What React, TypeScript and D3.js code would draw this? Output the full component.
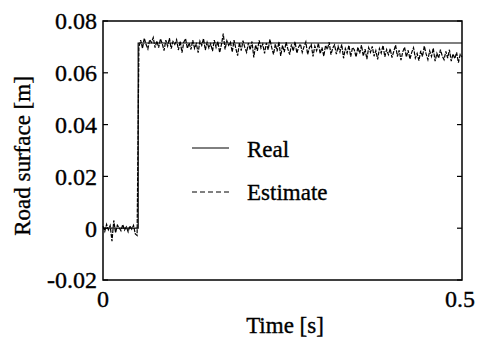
import React from "react";
import * as d3 from "d3";

const xTicks = [0, 0.5];
const xTickLabels = ["0", "0.5"];
const yTicks = [-0.02, 0, 0.02, 0.04, 0.06, 0.08];
const yTickLabels = ["-0.02", "0", "0.02", "0.04", "0.06", "0.08"];

const realTimes = [0, 0.049, 0.049, 0.5];
const realValues = [0, 0, 0.0715, 0.0715];

const sampleStep = 0.0025;
const estimateValues = [
  0.0008, -0.0012, 0.0015, -0.0006, 0.0010, -0.0050, 0.0030, -0.0018, 0.0012, 0.0002,
  -0.0010, 0.0014, -0.0007, 0.0005, -0.0014, 0.0009, -0.0004, 0.0011, -0.0022, -0.0028,
  0.0700, 0.0726, 0.0694, 0.0734, 0.0709, 0.0692, 0.0728, 0.0717, 0.0736, 0.0697,
  0.0723, 0.0697, 0.0731, 0.0713, 0.0686, 0.0726, 0.0703, 0.0734, 0.0693, 0.0721,
  0.0710, 0.0728, 0.0688, 0.0722, 0.0678, 0.0718, 0.0732, 0.0694, 0.0715, 0.0690,
  0.0726, 0.0694, 0.0712, 0.0678, 0.0722, 0.0706, 0.0732, 0.0688, 0.0718, 0.0696,
  0.0712, 0.0684, 0.0726, 0.0698, 0.0720, 0.0678, 0.0710, 0.0751, 0.0690, 0.0724,
  0.0706, 0.0718, 0.0680, 0.0726, 0.0694, 0.0666, 0.0716, 0.0686, 0.0724, 0.0698,
  0.0679, 0.0715, 0.0689, 0.0721, 0.0659, 0.0707, 0.0685, 0.0725, 0.0695, 0.0711,
  0.0675, 0.0715, 0.0689, 0.0729, 0.0697, 0.0671, 0.0711, 0.0683, 0.0719, 0.0665,
  0.0706, 0.0680, 0.0718, 0.0692, 0.0670, 0.0710, 0.0684, 0.0720, 0.0676, 0.0700,
  0.0711, 0.0679, 0.0701, 0.0719, 0.0671, 0.0697, 0.0709, 0.0663, 0.0703, 0.0685,
  0.0714, 0.0674, 0.0698, 0.0664, 0.0706, 0.0690, 0.0718, 0.0670, 0.0696, 0.0708,
  0.0672, 0.0702, 0.0680, 0.0710, 0.0656, 0.0694, 0.0676, 0.0706, 0.0662, 0.0698,
  0.0689, 0.0661, 0.0699, 0.0675, 0.0707, 0.0665, 0.0691, 0.0653, 0.0697, 0.0679,
  0.0702, 0.0664, 0.0686, 0.0652, 0.0694, 0.0676, 0.0706, 0.0662, 0.0690, 0.0670,
  0.0693, 0.0659, 0.0683, 0.0707, 0.0663, 0.0687, 0.0649, 0.0681, 0.0699, 0.0661,
  0.0687, 0.0653, 0.0679, 0.0697, 0.0657, 0.0675, 0.0647, 0.0685, 0.0663, 0.0703,
  0.0673, 0.0651, 0.0685, 0.0663, 0.0695, 0.0645, 0.0675, 0.0657, 0.0689, 0.0665,
  0.0651, 0.0683, 0.0657, 0.0689, 0.0645, 0.0673, 0.0655, 0.0679, 0.0639, 0.0671, 0.0661,
];

const legendLabels = ["Real", "Estimate"];
const xTitle = "Time [s]";
const yTitle = "Road surface [m]";

export default function App() {
  const W = 479, H = 347;
  const left = 103, right = 462, top = 21, bottom = 280;
  const x = d3.scaleLinear().domain([0, 0.5]).range([left, right]);
  const y = d3.scaleLinear().domain([-0.02, 0.08]).range([bottom, top]);
  const line = d3.line<[number, number]>().x(d => x(d[0])).y(d => y(d[1]));
  const realPts: [number, number][] = realTimes.map((t, i) => [t, realValues[i]]);
  const estPts: [number, number][] = estimateValues.map((v, i) => [i * sampleStep, v]);
  const textStyle = { fontFamily: "Liberation Serif, Times New Roman, serif" };
  const fs = 24;
  const tStroke = { stroke: "#000", strokeWidth: 0.35 };
  return (
    <svg width={W} height={H} style={{ position: "absolute", left: 0, top: 0, background: "#fff" }}>
      <rect x={0} y={0} width={W} height={H} fill="#fff" />
      <path d={line(realPts) || ""} fill="none" stroke="#000" strokeWidth={1.2} />
      <path d={line(estPts) || ""} fill="none" stroke="#000" strokeWidth={1.2} strokeDasharray="4 1.2" />
      <rect x={left} y={top} width={right - left} height={bottom - top} fill="none" stroke="#000" strokeWidth={1.5} />
      {yTicks.map((t, i) => (
        <g key={"y" + i}>
          <line x1={left} x2={left + 5} y1={y(t)} y2={y(t)} stroke="#000" strokeWidth={1.2} />
          <line x1={right} x2={right - 5} y1={y(t)} y2={y(t)} stroke="#000" strokeWidth={1.2} />
          <text x={left - 6} y={y(t)} dy="0.35em" textAnchor="end" style={textStyle} fontSize={fs} {...tStroke}>{yTickLabels[i]}</text>
        </g>
      ))}
      {xTicks.map((t, i) => (
        <text key={"x" + i} x={i === xTicks.length - 1 ? x(t) - 2 : x(t)} y={307} textAnchor="middle" style={textStyle} fontSize={fs} {...tStroke}>{xTickLabels[i]}</text>
      ))}
      <text x={285} y={333} textAnchor="middle" style={textStyle} fontSize={23} {...tStroke}>{xTitle}</text>
      <text transform={`translate(30,${156}) rotate(-90)`} textAnchor="middle" style={textStyle} fontSize={23} {...tStroke}>{yTitle}</text>
      <line x1={192} x2={229} y1={148} y2={148} stroke="#000" strokeWidth={1} />
      <text x={247} y={157} style={textStyle} fontSize={23} {...tStroke}>{legendLabels[0]}</text>
      <line x1={192} x2={229} y1={192} y2={192} stroke="#000" strokeWidth={1} strokeDasharray="5 3" />
      <text x={247} y={200} style={textStyle} fontSize={23} {...tStroke}>{legendLabels[1]}</text>
    </svg>
  );
}
